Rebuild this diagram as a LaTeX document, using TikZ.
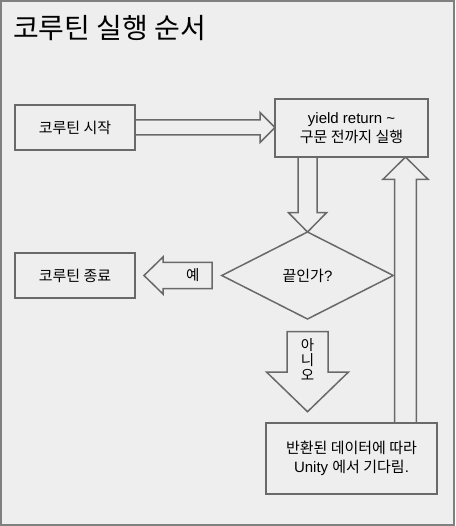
\documentclass[tikz,border=0pt]{standalone}
\usepackage{fontspec}
\setmainfont{Liberation Sans}
\newfontfamily\kr{Noto Sans CJK KR}
\usetikzlibrary{calc,shapes.geometric}

\definecolor{bggray}{RGB}{238,238,238}
\definecolor{framegray}{RGB}{128,128,128}
\definecolor{linegray}{RGB}{105,105,105}

\tikzset{
  box/.style={draw=linegray, line width=1.5pt, rectangle, align=center,
    inner sep=0pt, outer sep=0pt, font=\fontsize{15}{19.5}\selectfont},
  decision/.style={draw=linegray, line width=1.5pt, diamond, aspect=2,
    inner sep=0pt, outer sep=0pt, font=\fontsize{15}{19.5}\selectfont},
  blk/.style={draw=linegray, line width=1.5pt, line join=miter},
  lbl/.style={inner sep=0pt, align=center, font=\kr\fontsize{14.5}{15}\selectfont}
}

\begin{document}
\begin{tikzpicture}[x=1pt, y=-1pt]
				\useasboundingbox (0,0) rectangle (455,526);
				% background and frame
				\draw[fill=bggray, draw=framegray, line width=2pt] (1,1) rectangle (454,525);
				
				% Title
				\node[anchor=west, inner sep=0pt, font=\kr\fontsize{28}{32}\selectfont] (title) at (13,28) {코루틴 실행 순서};
				
				% Boxes
				\node[box, minimum width=120pt, minimum height=45pt] (start) at (75,127.5) {\kr 코루틴 시작};
				\node[box, minimum width=153pt, minimum height=58pt] (yield) at (351.5,128) {yield return \textasciitilde\\{\kr 구문 전까지 실행}};
				\node[box, minimum width=120pt, minimum height=45pt] (finish) at (75,275.5) {\kr 코루틴 종료};
				\node[decision, minimum width=171.5pt, minimum height=87pt] (cond) at (307.5,275.5) {{\kr 끝인가}?};
				\node[box, minimum width=171pt, minimum height=71pt] (wait) at (351.5,458.5) {{\kr 반환된 데이터에 따라}\\Unity {\kr 에서 기다림}.};
				
				% start -> yield
				\draw[blk] ($(start.east)+(0,-7.5)$) -- ++(125,0) -- ++(0,-7.5) -- (yield.west |- start.east) -- ++(-15,15) -- ++(0,-7.5) -- ($(start.east)+(0,7.5)$);
				
				% yield -> cond
				\draw[blk] ($(cond.north |- yield.south)+(-9.5,0)$) -- ++(0,55.7) -- ++(-9.5,0) -- (cond.north) -- ++(19,-19.3) -- ++(-9.5,0) -- ($(cond.north |- yield.south)+(9.5,0)$);
				
				% yes arrow
				\draw[blk] ($(finish.east)+(9,0)$) -- ++(19,-18.5) -- ++(0,5.3) -- ++(49,0) -- ++(0,26.4) -- ++(-49,0) -- ++(0,5.3) -- cycle;
				\node[lbl] (yes) at ($(cond.west)+(-29,0)$) {예};
				
				% no arrow
				\draw[blk] ($(cond.south)+(-20.5,12.7)$) -- ++(0,40.3) -- ++(-20.5,0) -- ++(41,39.7) -- ++(41,-39.7) -- ++(-20.5,0) -- ++(0,-40.3) -- cycle;
				\node[lbl] (no) at ($(cond.south)+(0,41)$) {아\\니\\오};
				
				% wait -> yield
				\coordinate (up tip) at ($(yield.south east)+(-22.5,0)$);
				\draw[blk] ($(up tip |- wait.north)+(-10.8,0)$) |- ($(up tip)+(-22.5,22.3)$) -- (up tip) -- ++(22.5,22.3) -| ($(up tip |- wait.north)+(10.8,0)$);
			\end{tikzpicture}
\end{document}
